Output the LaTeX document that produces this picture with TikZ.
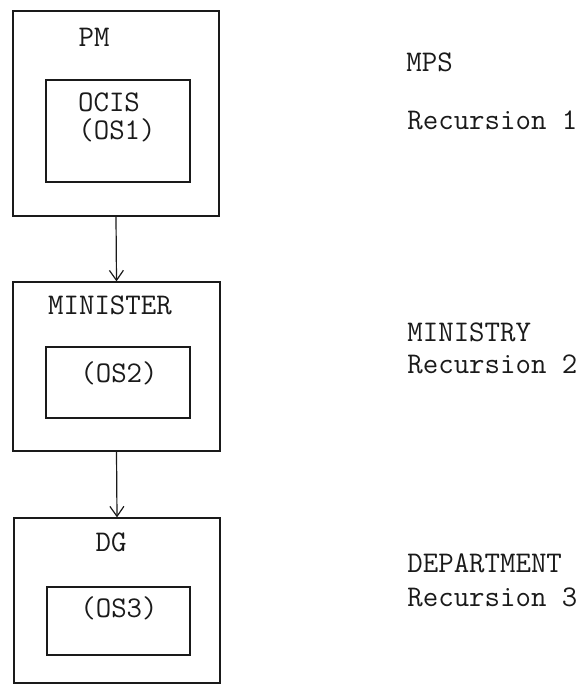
\documentclass[tikz,border=0pt]{standalone}
\usepackage{tikz}
\usetikzlibrary{arrows.meta,positioning}
\definecolor{ink}{HTML}{1A1A1A}
\tikzset{
  outerbox/.style={
    draw=ink, line width=0.6pt, inner sep=0pt
  },
  innerbox/.style={
    draw=ink, line width=0.6pt, inner sep=0pt
  },
  typed/.style={
    font=\ttfamily\fontsize{15}{18}\selectfont, text=ink, inner sep=0pt
  },
  sidenote/.style={
    typed, anchor=west
  },
  flow/.style={
    draw=ink, line width=0.6pt, -{Straight Barb[length=5pt,width=7pt]}
  }
}

\begin{document}
\begin{tikzpicture}[x=0.5pt,y=-0.5pt]
  \useasboundingbox (0,0) rectangle (587,686);
  % recursion 1
  \node[outerbox,minimum width=103pt,minimum height=102.5pt] (pm) at (116,113.5) {};
  \node[innerbox,minimum width=72pt,minimum height=51pt] (ocis) at (118,131) {};
  \node[typed] (pmlabel) at (94,37) {PM};
  \node[typed] (ocislabel) at (109,102) {OCIS};
  \node[typed] (osone) at (117,130) {(OS1)};
  % recursion 2
  \node[outerbox,minimum width=103.5pt,minimum height=84.5pt] (minister) at (116.5,366.5) {};
  \node[innerbox,minimum width=72pt,minimum height=35.5pt] (ministryos) at (118,382.5) {};
  \node[typed] (ministerlabel) at (110,305) {MINISTER};
  \node[typed] (ostwo) at (119,373) {(OS2)};
  % recursion 3
  \node[outerbox,minimum width=103pt,minimum height=82.5pt] (dg) at (117,600.5) {};
  \node[innerbox,minimum width=71.5pt,minimum height=34pt] (deptos) at (118.5,621) {};
  \node[typed] (dglabel) at (111,542) {DG};
  \node[typed] (osthree) at (119,608) {(OS3)};

  \draw[flow] (pm.south) -- (minister.north);
  \draw[flow] (minister.south) -- (dg.north);

  \node[sidenote] (mps) at (406,62) {MPS};
  \node[sidenote] (recone) at (407,120) {Recursion 1};
  \node[sidenote] (ministry) at (407,332) {MINISTRY};
  \node[sidenote] (rectwo) at (407,364) {Recursion 2};
  \node[sidenote] (department) at (407,563) {DEPARTMENT};
  \node[sidenote] (recthree) at (407,597) {Recursion 3};
\end{tikzpicture}
\end{document}
